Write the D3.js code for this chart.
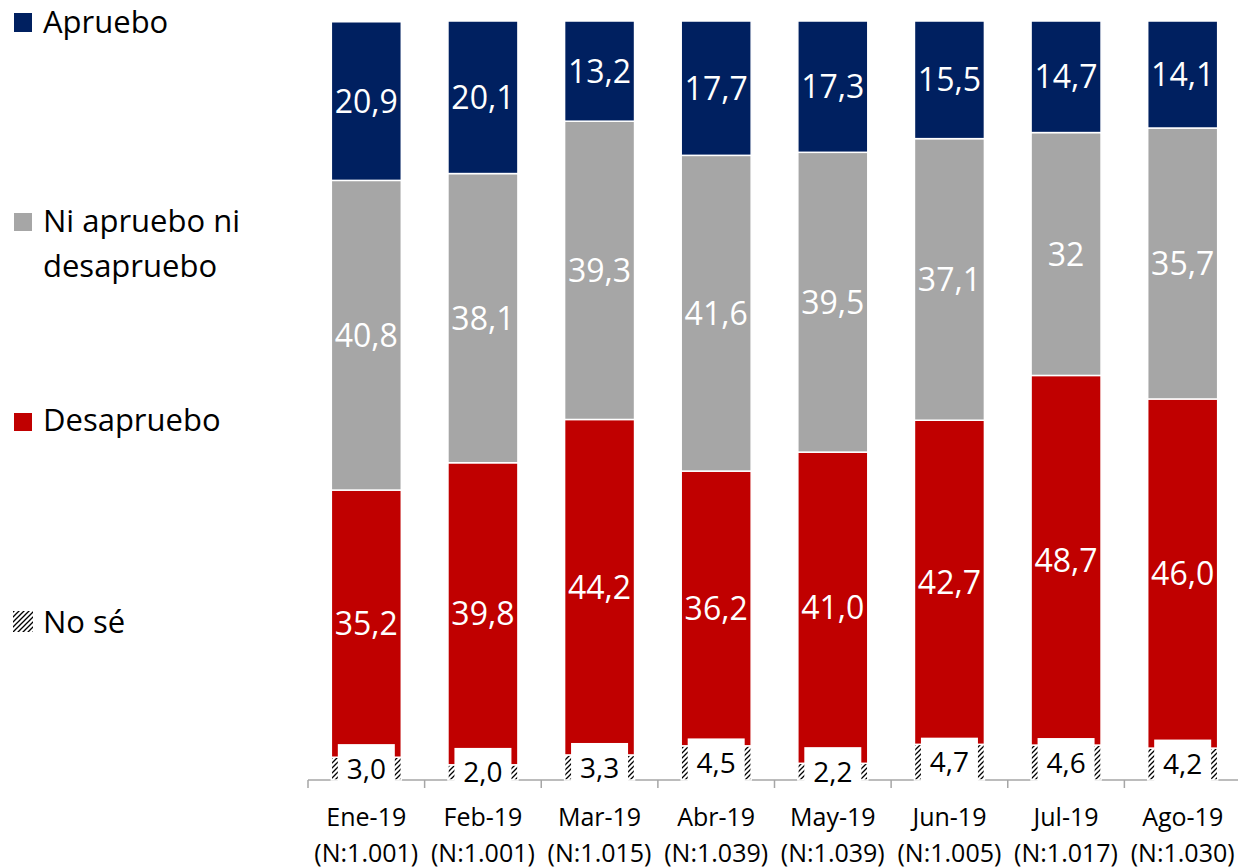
<!DOCTYPE html>
<html>
<head>
<meta charset="utf-8">
<script src="https://cdn.jsdelivr.net/npm/d3@7"></script>
<style>
  html, body { margin: 0; padding: 0; background: #fff; }
  svg { display: block; font-family: "Open Sans", sans-serif; }
</style>
</head>
<body>
<svg id="chart" width="1238" height="868"></svg>
<script>
const months = ["Ene-19", "Feb-19", "Mar-19", "Abr-19", "May-19", "Jun-19", "Jul-19", "Ago-19"];
const sampleSizes = ["(N:1.001)", "(N:1.001)", "(N:1.015)", "(N:1.039)", "(N:1.039)", "(N:1.005)", "(N:1.017)", "(N:1.030)"];
const noSe = [3.0, 2.0, 3.3, 4.5, 2.2, 4.7, 4.6, 4.2];
const desapruebo = [35.2, 39.8, 44.2, 36.2, 41.0, 42.7, 48.7, 46.0];
const niNi = [40.8, 38.1, 39.3, 41.6, 39.5, 37.1, 32, 35.7];
const apruebo = [20.9, 20.1, 13.2, 17.7, 17.3, 15.5, 14.7, 14.1];

const seriesNames = ["No sé", "Desapruebo", "Ni apruebo ni desapruebo", "Apruebo"];
const seriesKeys = ["noSe", "desapruebo", "niNi", "apruebo"];
const seriesColors = { noSe: "url(#hatch)", desapruebo: "#C00000", niNi: "#A6A6A6", apruebo: "#002060" };

const rows = months.map((m, i) => ({
  month: m, n: sampleSizes[i],
  noSe: noSe[i], desapruebo: desapruebo[i], niNi: niNi[i], apruebo: apruebo[i]
}));

const fmt = (key, v) => key === "niNi" ? String(v).replace(".", ",") : v.toFixed(1).replace(".", ",");

const svg = d3.select("#chart");

// hatch pattern
const defs = svg.append("defs");
const pat = defs.append("pattern")
  .attr("id", "hatch").attr("patternUnits", "userSpaceOnUse")
  .attr("width", 5).attr("height", 5);
pat.append("rect").attr("width", 5).attr("height", 5).attr("fill", "#fff");
pat.append("path")
  .attr("d", "M0,5 L5,0 M-1,1 L1,-1 M4,6 L6,4")
  .attr("stroke", "#000").attr("stroke-width", 1.3);

const x = d3.scaleBand().domain(months).range([308, 1241]).paddingInner(0.4).paddingOuter(0.2);
const y = d3.scaleLinear().domain([0, 100]).range([780, 21]);

const stack = d3.stack().keys(seriesKeys);
const stacked = stack(rows);

// axis
const axisG = svg.append("g");
axisG.append("line")
  .attr("x1", x.range()[0]).attr("x2", x.range()[1])
  .attr("y1", y(0)).attr("y2", y(0))
  .attr("stroke", "#A6A6A6").attr("stroke-width", 1.5);
const step = x.step();
const bounds = d3.range(months.length + 1).map(i => x.range()[0] + i * step);
axisG.selectAll("line.tick").data(bounds).join("line")
  .attr("class", "tick")
  .attr("x1", d => d).attr("x2", d => d)
  .attr("y1", y(0)).attr("y2", y(0) + 8)
  .attr("stroke", "#A6A6A6").attr("stroke-width", 1.5);

// bars
const layers = svg.append("g").selectAll("g").data(stacked).join("g")
  .attr("fill", d => seriesColors[d.key]);
layers.selectAll("rect").data(d => d).join("rect")
  .attr("x", d => x(d.data.month))
  .attr("width", x.bandwidth())
  .attr("y", d => y(d[1]))
  .attr("height", d => y(d[0]) - y(d[1]))
  .attr("stroke", "#fff").attr("stroke-width", 1.5);

// labels
stacked.forEach(layer => {
  const key = layer.key;
  const g = svg.append("g");
  if (key === "noSe") {
    g.selectAll("rect").data(layer).join("rect")
      .attr("x", d => x(d.data.month) + x.bandwidth() / 2 - 28.5)
      .attr("width", 57)
      .attr("y", d => y((d[0] + d[1]) / 2) - 24.5)
      .attr("height", 49)
      .attr("fill", "#fff");
  }
  g.selectAll("text").data(layer).join("text")
    .attr("x", d => x(d.data.month) + x.bandwidth() / 2)
    .attr("y", d => y((d[0] + d[1]) / 2))
    .attr("dy", "0.36em")
    .attr("text-anchor", "middle")
    .attr("font-size", key === "noSe" ? 28 : 32)
    .attr("fill", key === "noSe" ? "#000" : "#fff")
    .text(d => fmt(key, d.data[key]));
});

// x labels
const xl = svg.append("g");
xl.selectAll("text.m").data(rows).join("text")
  .attr("class", "m")
  .attr("x", d => x(d.month) + x.bandwidth() / 2)
  .attr("y", 826)
  .attr("text-anchor", "middle").attr("font-size", 25).attr("fill", "#000")
  .text(d => d.month);
xl.selectAll("text.n").data(rows).join("text")
  .attr("class", "n")
  .attr("x", d => x(d.month) + x.bandwidth() / 2)
  .attr("y", 862)
  .attr("text-anchor", "middle").attr("font-size", 25).attr("fill", "#000")
  .text(d => d.n);

// legend
const legendItems = [
  { key: "apruebo", lines: ["Apruebo"], baseline: 33, mark: [14, 13, 18, 19] },
  { key: "niNi", lines: ["Ni apruebo ni", "desapruebo"], baseline: 232, mark: [14, 213, 18, 18] },
  { key: "desapruebo", lines: ["Desapruebo"], baseline: 431, mark: [14, 413, 18, 18] },
  { key: "noSe", lines: ["No sé"], baseline: 633, mark: [13, 611, 20, 21] }
];
const lg = svg.append("g");
legendItems.forEach(it => {
  lg.append("rect")
    .attr("x", it.mark[0]).attr("y", it.mark[1])
    .attr("width", it.mark[2]).attr("height", it.mark[3])
    .attr("fill", seriesColors[it.key]);
  const t = lg.append("text").attr("x", 43).attr("y", it.baseline)
    .attr("font-size", 31).attr("fill", "#000");
  it.lines.forEach((ln, i) => {
    t.append("tspan").attr("x", 43).attr("dy", i === 0 ? 0 : 45).text(ln);
  });
});
</script>
</body>
</html>
